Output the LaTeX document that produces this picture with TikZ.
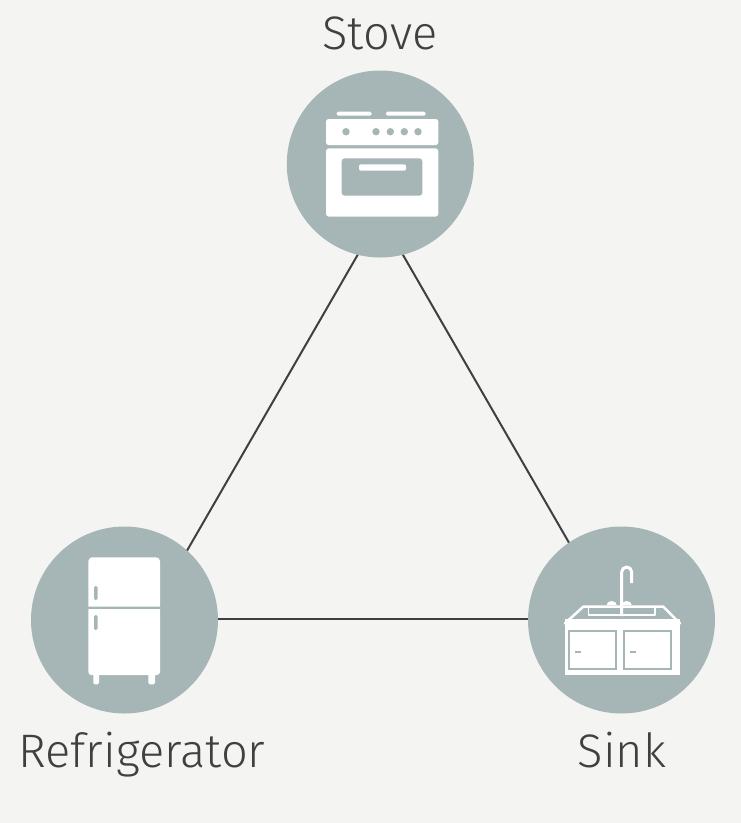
\documentclass[tikz,border=0pt]{standalone}
\usepackage{fontspec}
\setmainfont{Fira Sans}[UprightFont=* Light]
\usepackage{tikz}

\definecolor{sage}{RGB}{166,182,183}
\definecolor{wall}{RGB}{244,244,242}
\definecolor{ink}{RGB}{64,64,64}

\begin{document}
\begin{tikzpicture}
    [x=1pt, y=-1pt, every node/.style={inner sep=0pt},
     spot/.style={circle, fill=sage, minimum size=187pt},
     caption/.style={text=ink, font=\fontsize{47}{50}\selectfont, anchor=base},
     tie/.style={draw=ink, line width=2pt},
     part/.style={fill=white},
     rim/.style={draw=white, line width=2.5pt, line join=round},
     trim/.style={draw=sage, line width=2.2pt}]
    \fill[wall] (0,0) rectangle (741,823);

    % corners of the work triangle
    \coordinate (top) at (380.3,215.6);
    \coordinate (left) at (147.4,619.3);
    \coordinate (right) at (613.2,619.3);
    \foreach \from/\to in {top/left,left/right,right/top}
      \draw[tie] (\from) -- (\to);

    \node[spot] (stove) at (380.3,164) {};
    \node[spot] (fridge) at (124.5,620) {};
    \node[spot] (sink) at (621.5,620) {};

    \node[caption] (stovetext) at (380,49) {Stove};
    \node[caption] (fridgetext) at (142,767) {Refrigerator};
    \node[caption] (sinktext) at (622,767) {Sink};

    % stove
    \begin{scope}[shift={(stove.center)}]
      \fill[part, rounded corners=1.5] (-43.6,-52.3) rectangle (-8.6,-48.3);
      \fill[part, rounded corners=1.5] (5.7,-52.3) rectangle (45.4,-48.3);
      \fill[part, rounded corners=2.5] (-54.3,-45) rectangle (58,-19);
      \fill[part, rounded corners=3] (-54.3,-15.7) rectangle (58,52.7);
      \fill[sage, rounded corners=3] (-38.6,-5.7) rectangle (42,31.7);
      \fill[part, rounded corners=2] (-21.3,0.3) rectangle (25.7,6.7);
      \foreach \x in {-34.3,-4.3,10,24,37.7}
        \fill[sage] (\x,-32.3) circle (3.7);
    \end{scope}

    % refrigerator
    \begin{scope}[shift={(fridge.center)}]
      \fill[part] (-36.2,-13.3) [rounded corners=4] -- (-36.2,-62.7)
        -- (35.5,-62.7) [sharp corners] -- (35.5,-13.3) -- cycle;
      \fill[part] (-36.2,-11) -- (35.5,-11) [rounded corners=3]
        -- (35.5,55) -- (-36.2,55) [sharp corners] -- cycle;
      \fill[part, rounded corners=1.5] (-31.2,50) rectangle (-25.5,64.3);
      \fill[part, rounded corners=1.5] (23.8,50) rectangle (30.5,64.3);
      \fill[sage, rounded corners=1.5] (-30.5,-34) rectangle (-26.8,-20);
      \fill[sage, rounded corners=1.5] (-30.5,-5) rectangle (-26.8,10);
    \end{scope}

    % sink
    \begin{scope}[shift={(sink.center)}]
      \draw[rim] (-38.2,-13.3) -- (41.8,-13.3) -- (58.5,3.3) -- (-56.5,3.3) -- cycle;
      \draw[rim, line width=1.5pt] (-33.2,-12) -- (-33.2,-5) -- (-1.5,-5);
      \draw[rim, line width=1.5pt] (1.8,-5) -- (33.5,-5) -- (33.5,-12);
      \fill[part] (-56.5,-0.7) rectangle (58.5,6);
      \draw[rim, line width=3pt] (0.2,-4) -- (0.2,-48)
        arc[start angle=180, end angle=360, radius=5] -- (10.2,-37);
      \foreach \x in {-9.8,5.2}
        \fill[part] (\x-5,-15) arc[start angle=180, end angle=360, x radius=5, y radius=4] -- cycle;
      \fill[part] (-56.5,5) rectangle (58.5,55);
      \draw[trim] (-52.8,11) rectangle (-5.5,49);
      \draw[trim] (2.2,11) rectangle (49.5,49);
      \draw[trim, line width=1.8pt] (-46.5,31.7) -- (-40.5,31.7);
      \draw[trim, line width=1.8pt] (8.2,31.7) -- (14.2,31.7);
    \end{scope}
\end{tikzpicture}
\end{document}
